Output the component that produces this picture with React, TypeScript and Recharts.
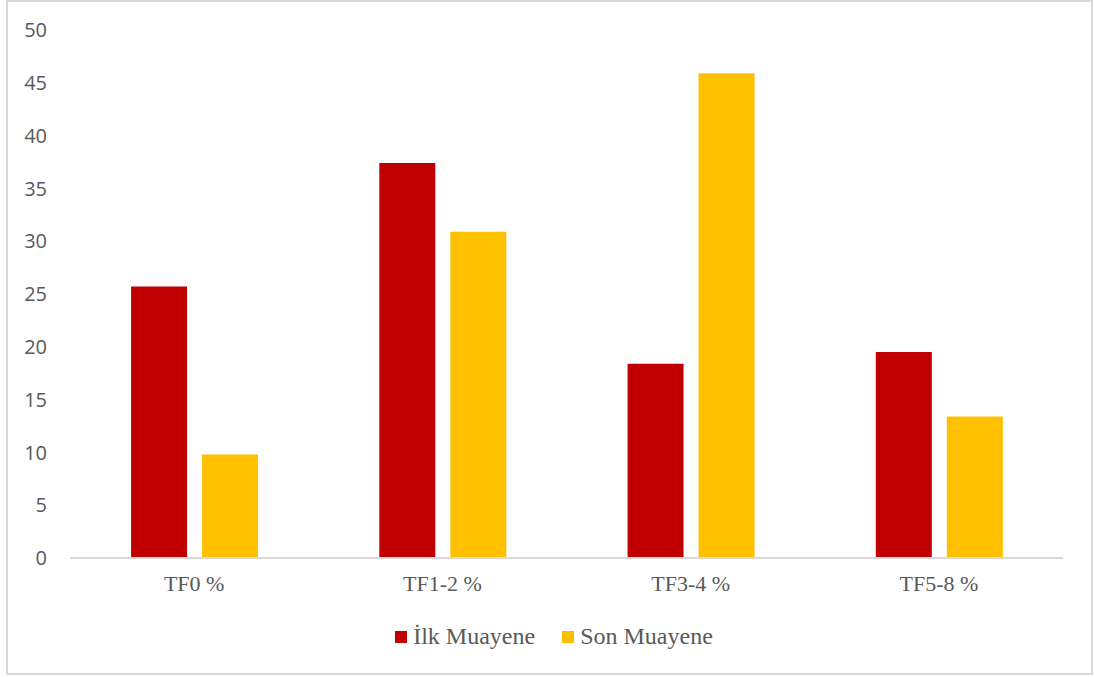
import { BarChart, Bar, XAxis, YAxis } from 'recharts'

// ─── Data ─────────────────────────────────────────────────────────────────────

const CATEGORIES = ['TF0 %', 'TF1-2 %', 'TF3-4 %', 'TF5-8 %']
const ILK_MUAYENE = [25.7, 37.4, 18.4, 19.5]
const SON_MUAYENE = [9.8, 30.9, 45.9, 13.4]
const Y_TICKS = [0, 5, 10, 15, 20, 25, 30, 35, 40, 45, 50]

const SERIES = [
  { key: 'ilk', name: 'İlk Muayene', color: '#C00000' },
  { key: 'son', name: 'Son Muayene', color: '#FFC000' },
]

const data = CATEGORIES.map((category, i) => ({
  category,
  ilk: ILK_MUAYENE[i],
  son: SON_MUAYENE[i],
}))

const TEXT_GRAY = '#595959'
const SERIF = '"Liberation Serif", "Times New Roman", serif'

// ─── Legend ───────────────────────────────────────────────────────────────────

function ChartLegend() {
  return (
    <div
      style={{
        position: 'absolute',
        top: 623,
        left: 7,
        width: 1094,
        display: 'flex',
        justifyContent: 'center',
        gap: 27,
        fontFamily: SERIF,
        fontSize: 24,
        color: TEXT_GRAY,
      }}
    >
      {SERIES.map((s) => (
        <div key={s.key} style={{ display: 'flex', alignItems: 'center', gap: 6 }}>
          <span style={{ width: 12, height: 12, background: s.color, display: 'inline-block' }} />
          <span>{s.name}</span>
        </div>
      ))}
    </div>
  )
}

// ─── App ──────────────────────────────────────────────────────────────────────

export default function App() {
  return (
    <div style={{ position: 'absolute', left: 0, top: 0, width: 1094, height: 677, background: '#fff', overflow: 'hidden' }}>
      <div
        style={{
          position: 'absolute',
          left: 6,
          top: 0,
          width: 1083,
          height: 671,
          border: '2px solid #d9d9d9',
        }}
      />
      <BarChart
        width={1094}
        height={677}
        data={data}
        margin={{ top: 30, right: 31, left: 20, bottom: 0 }}
        barCategoryGap="24.6%"
        barGap={15}
        style={{ position: 'absolute', left: 0, top: 0 }}
      >
        <XAxis
          dataKey="category"
          axisLine={{ stroke: '#d9d9d9', strokeWidth: 2 }}
          tickLine={false}
          tickSize={0}
          tickMargin={17}
          height={119}
          tick={{ fontSize: 22, fill: TEXT_GRAY, fontFamily: SERIF }}
        />
        <YAxis
          domain={[0, 50]}
          ticks={Y_TICKS}
          interval={0}
          axisLine={false}
          tickLine={false}
          tickSize={0}
          tickMargin={23}
          width={50}
          tick={{ fontSize: 20, fill: TEXT_GRAY, fontFamily: '"Open Sans", sans-serif' }}
        />
        {SERIES.map((s) => (
          <Bar key={s.key} dataKey={s.key} name={s.name} fill={s.color} isAnimationActive={false} />
        ))}
      </BarChart>
      <ChartLegend />
    </div>
  )
}
